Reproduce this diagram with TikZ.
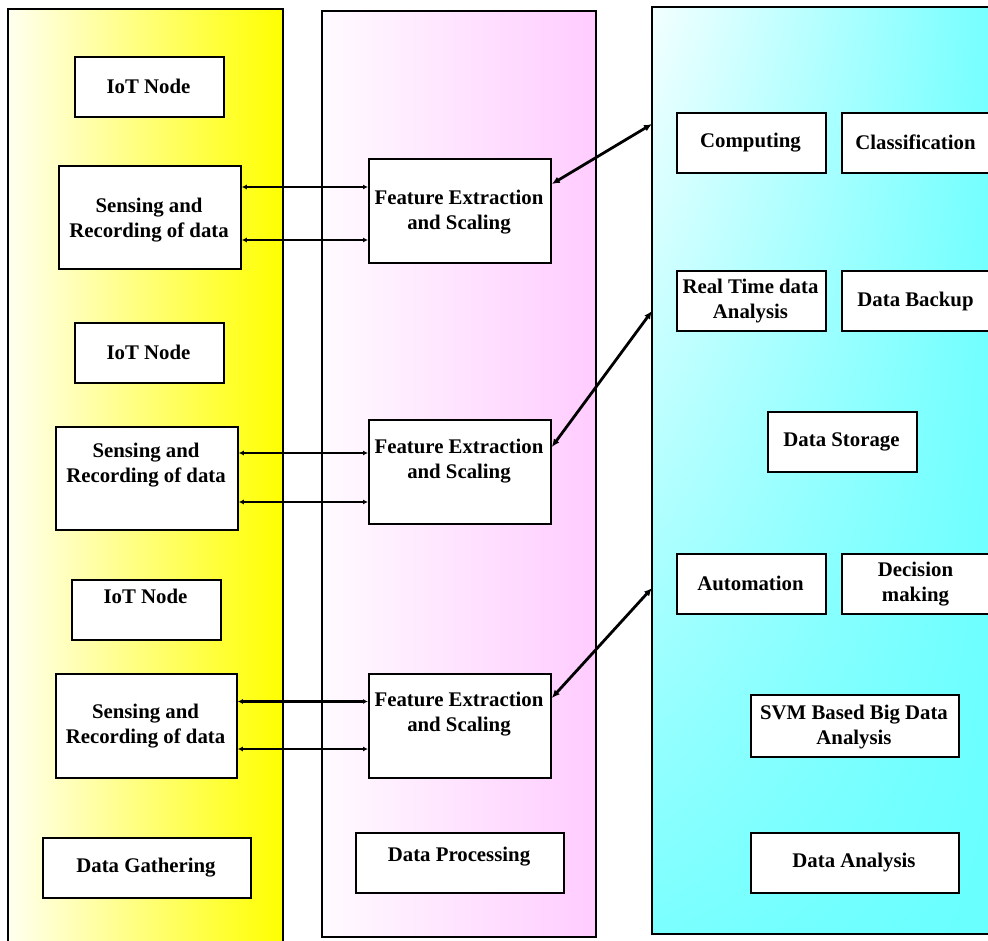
\documentclass[tikz,border=0pt]{standalone}
\usepackage{fontspec}
\setmainfont{Liberation Serif}
\usetikzlibrary{arrows.meta,fadings,calc}
\definecolor{cyfull}{RGB}{102,255,255}
\definecolor{pinkr}{RGB}{255,204,255}
\definecolor{yell}{RGB}{255,255,0}
\colorlet{cyl}{cyfull!7!white}
\colorlet{cyr}{cyfull!93!white}
\begin{document}
\begin{tikzpicture}[x=1pt,y=-1pt,
  panel/.style={draw, line width=1.7pt, outer sep=0pt, anchor=north west, inner sep=0pt},
  box/.style={draw, line width=1.8pt, fill=white, anchor=north west, inner sep=0pt},
  lbl/.style={inner sep=0pt, align=center, font={\fontsize{20.8}{25}\selectfont\bfseries}},
  harr/.style={line width=2.4pt, {Latex[length=5pt,width=5pt]}-{Latex[length=5pt,width=5pt]}},
  darr/.style={line width=2.8pt, {Latex[length=8pt,width=7pt]}-{Latex[length=8pt,width=7pt]}}]
\useasboundingbox (0,0) rectangle (988,940);
\fill[white] (0,0) rectangle (988,940);
% panels
\node[panel, left color=yell!6!white, right color=yell, minimum width=275pt, minimum height=941pt] (yl) at (8,9) {};
\node[panel, left color=pinkr!8!white, right color=pinkr, minimum width=274pt, minimum height=926pt] (pk) at (322,11) {};
\node[panel, left color=cyl, right color=cyr, minimum width=353pt, minimum height=927pt] (cy) at (652,7) {};
\fill[cyfull, path fading=north, fill opacity=0.85] (cy.north west) rectangle (cy.south east);
\draw[line width=1.7pt] (cy.north west) rectangle (cy.south east);
% left column boxes
\node[box, minimum width=149pt, minimum height=60pt] (iot1) at (74,56) {};
\node[box, minimum width=182pt, minimum height=103pt] (s1) at (58,165) {};
\node[box, minimum width=149pt, minimum height=60pt] (iot2) at (74,322) {};
\node[box, minimum width=182pt, minimum height=103pt] (s2) at (55,426) {};
\node[box, minimum width=149pt, minimum height=60pt] (iot3) at (71,579) {};
\node[box, minimum width=181pt, minimum height=104pt] (s3) at (55,673) {};
\node[box, minimum width=208pt, minimum height=60pt] (dg) at (42,837) {};
% middle column boxes
\node[box, minimum width=182pt, minimum height=104pt] (f1) at (368,158) {};
\node[box, minimum width=182pt, minimum height=104pt] (f2) at (368,419) {};
\node[box, minimum width=182pt, minimum height=104pt] (f3) at (368,673) {};
\node[box, minimum width=208pt, minimum height=60pt] (dp) at (355,832) {};
% right column boxes
\node[box, minimum width=149pt, minimum height=60pt] (comp) at (676,112) {};
\node[box, minimum width=149pt, minimum height=60pt] (clas) at (841,112) {};
\node[box, minimum width=149pt, minimum height=60pt] (rt) at (676,270) {};
\node[box, minimum width=149pt, minimum height=60pt] (db) at (841,270) {};
\node[box, minimum width=149pt, minimum height=60pt] (ds) at (767,411) {};
\node[box, minimum width=149pt, minimum height=60pt] (auto) at (676,553) {};
\node[box, minimum width=149pt, minimum height=60pt] (dm) at (841,553) {};
\node[box, minimum width=208pt, minimum height=62pt] (svm) at (750,694) {};
\node[box, minimum width=208pt, minimum height=60pt] (da) at (750,832) {};
% labels
\node[lbl] (iot1t) at (148.5,86) {IoT Node};
\node[lbl] (s1t) at (149,220) {Sensing and\\Recording of data};
\node[lbl] (iot2t) at (148.5,352) {IoT Node};
\node[lbl] (s2t) at (146,465) {Sensing and\\Recording of data};
\node[lbl] (iot3t) at (145.5,596) {IoT Node};
\node[lbl] (s3t) at (145.5,726) {Sensing and\\Recording of data};
\node[lbl] (dgt) at (146,868) {Data Gathering};
\node[lbl] (f1t) at (459,212) {Feature Extraction\\and Scaling};
\node[lbl] (f2t) at (459,461) {Feature Extraction\\and Scaling};
\node[lbl] (f3t) at (459,714) {Feature Extraction\\and Scaling};
\node[lbl] (dpt) at (459,857) {Data Processing};
\node[lbl] (compt) at (750.5,143) {Computing};
\node[lbl] (clast) at (915.5,142) {Classification};
\node[lbl] (rtt) at (750.5,301) {Real Time data\\Analysis};
\node[lbl] (dbt) at (915.5,301) {Data Backup};
\node[lbl] (dst) at (841.5,442) {Data Storage};
\node[lbl] (autot) at (750.5,583) {Automation};
\node[lbl] (dmt) at (915.5,584) {Decision\\making};
\node[lbl] (svmt) at (854,727) {SVM Based Big Data\\Analysis};
\node[lbl] (dat) at (854,863) {Data Analysis};
% horizontal connectors
\draw[harr] ($(s1.north east)+(0,22)$) -- ($(f1.north west)+(0,29)$);
\draw[harr] ($(s1.north east)+(0,75)$) -- ($(f1.north west)+(0,82)$);
\draw[harr] ($(s2.north east)+(0,27)$) -- ($(f2.north west)+(0,34)$);
\draw[harr] ($(s2.north east)+(0,76)$) -- ($(f2.north west)+(0,83)$);
\draw[harr] ($(s3.north east)+(0,28.5)$) -- ($(f3.north west)+(0,28.5)$);
\draw[harr] ($(s3.north east)+(0,76)$) -- ($(f3.north west)+(0,76)$);
% diagonal connectors
\draw[darr] ($(f1.north east)+(0,26)$) -- ($(cy.north west)+(0,117)$);
\draw[darr] ($(f2.north east)+(0,28)$) -- ($(cy.north west)+(0,304)$);
\draw[darr] ($(f3.north east)+(0,25)$) -- ($(cy.north west)+(0,581)$);
\end{tikzpicture}
\end{document}
